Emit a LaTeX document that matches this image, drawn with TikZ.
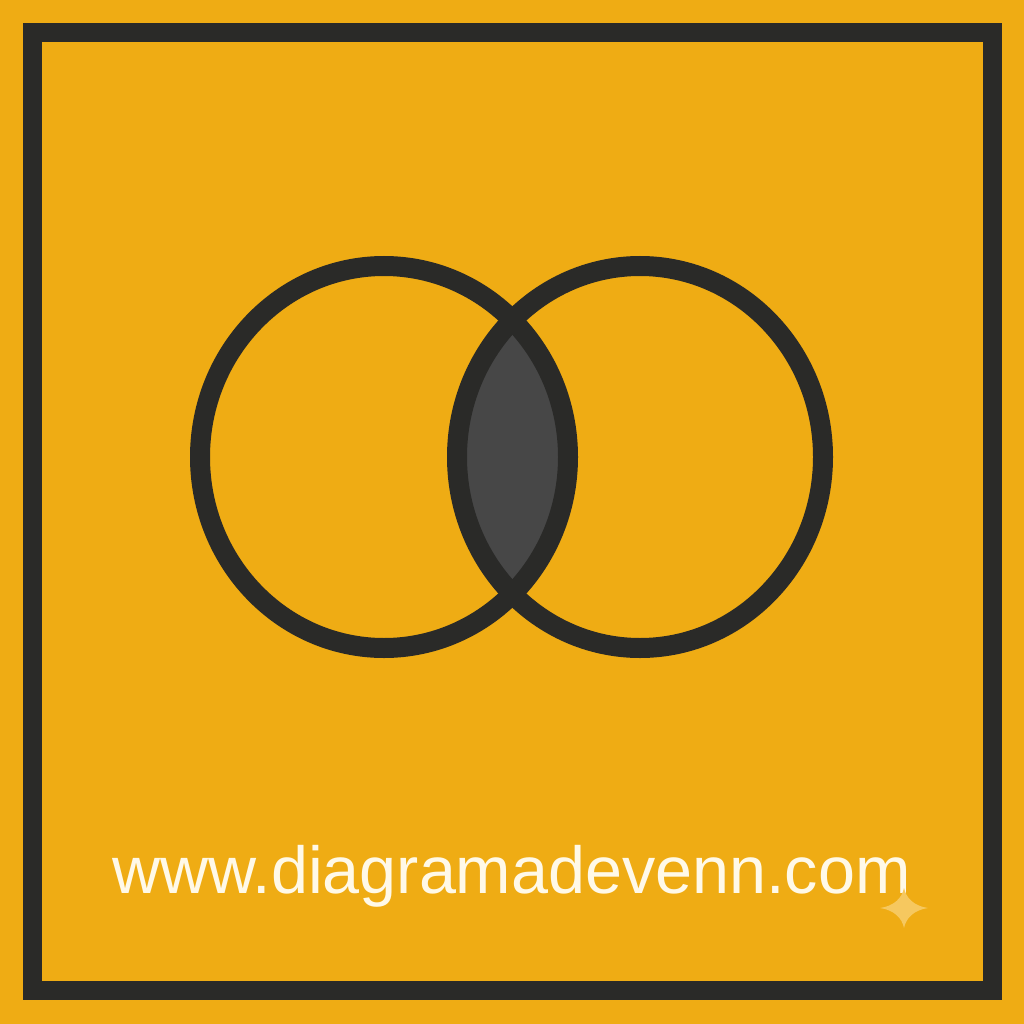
\documentclass[tikz,border=0pt]{standalone}
\usepackage{fontspec}
\setmainfont{Liberation Sans}
\definecolor{bgorange}{RGB}{239,172,20}
\definecolor{inkdark}{RGB}{42,42,40}
\definecolor{lensgray}{RGB}{71,71,71}
\definecolor{textcream}{RGB}{255,249,232}
\definecolor{sparkcol}{RGB}{246,200,95}
\tikzset{
  ring/.style={draw=inkdark, line width=20pt},
  framebox/.style={draw=inkdark, line width=19pt},
  urltext/.style={text=textcream, font=\fontsize{66.5}{80}\selectfont, inner sep=0pt}
}
\begin{document}
\begin{tikzpicture}[x=1pt,y=-1pt]
\fill[bgorange] (0,0) rectangle (1024,1024);
\useasboundingbox (0,0) rectangle (1024,1024);
% frame
\draw[framebox] (32.5,32.5) rectangle (992.5,990.5);
% lens
\begin{scope}
  \clip (384,457) ellipse [x radius=184, y radius=191];
  \fill[lensgray] (640,457) ellipse [x radius=183, y radius=191];
\end{scope}
% circles
\draw[ring] (384,457) ellipse [x radius=184, y radius=191];
\draw[ring] (640,457) ellipse [x radius=183, y radius=191];
% text
\node[urltext, anchor=base] (url) at (511.5,893) {www.diagramadevenn.com};
% sparkle
\fill[sparkcol] (880,908) .. controls (894,906) and (902,898) .. (904,888)
  .. controls (906,898) and (914,906) .. (928,908)
  .. controls (914,910) and (906,918) .. (904,928)
  .. controls (902,918) and (894,910) .. cycle;
\end{tikzpicture}
\end{document}
